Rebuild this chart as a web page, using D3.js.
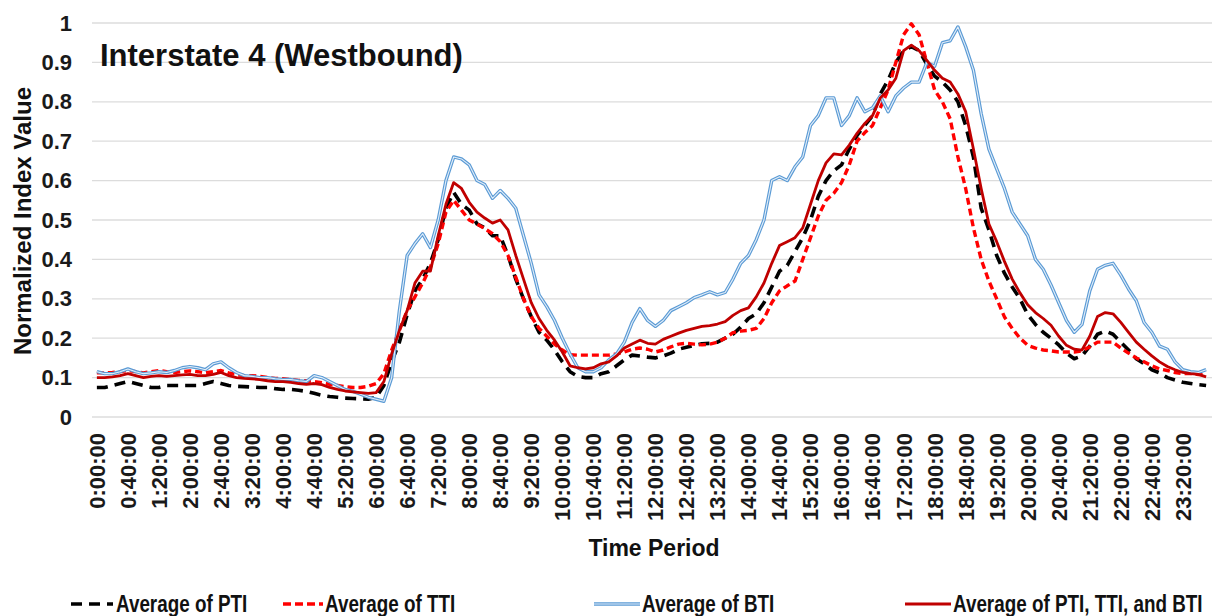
<!DOCTYPE html>
<html>
<head>
<meta charset="utf-8">
<script src="https://cdn.jsdelivr.net/npm/d3@7/dist/d3.min.js"></script>
<style>
  html, body { margin: 0; padding: 0; background: #fff; }
  svg { display: block; font-family: "Liberation Sans", Arial, sans-serif; font-weight: bold; }
</style>
</head>
<body>
<svg id="chart" width="1227" height="616"></svg>
<script>
// 10-minute time periods across the day (0:00:00 ... 23:50:00)
const periods = [];
for (let h = 0; h < 24; h++) {
  for (let m = 0; m < 60; m += 10) {
    periods.push(`${h}:${String(m).padStart(2, "0")}:00`);
  }
}
// every 40 minutes gets a label
const periodTicks = periods.filter((_, i) => i % 4 === 0);

const yTicks = [0, 0.1, 0.2, 0.3, 0.4, 0.5, 0.6, 0.7, 0.8, 0.9, 1];
const yTickLabels = ["0", "0.1", "0.2", "0.3", "0.4", "0.5", "0.6", "0.7", "0.8", "0.9", "1"];

const seriesNames = ["Average of PTI", "Average of TTI", "Average of BTI", "Average of PTI, TTI, and BTI"];

const avgPTI = [
  0.075, 0.075, 0.08, 0.085, 0.09, 0.085,
  0.08, 0.075, 0.075, 0.08, 0.08, 0.08,
  0.08, 0.08, 0.085, 0.09, 0.085, 0.08,
  0.078, 0.077, 0.076, 0.075, 0.075, 0.072,
  0.07, 0.07, 0.068, 0.065, 0.06, 0.055,
  0.052, 0.05, 0.048, 0.047, 0.046, 0.045,
  0.05, 0.08, 0.14, 0.19, 0.26, 0.32,
  0.35, 0.39, 0.45, 0.53, 0.57, 0.54,
  0.525, 0.49, 0.48, 0.46, 0.46, 0.41,
  0.35, 0.3, 0.255, 0.215, 0.195, 0.17,
  0.14, 0.115, 0.103, 0.1, 0.1, 0.11,
  0.115, 0.13, 0.145, 0.157, 0.155, 0.152,
  0.15, 0.155, 0.162, 0.172, 0.177, 0.182,
  0.186, 0.187, 0.19, 0.2, 0.21, 0.228,
  0.25, 0.262, 0.29, 0.33, 0.37, 0.385,
  0.42, 0.455, 0.5, 0.56, 0.6, 0.625,
  0.64, 0.68, 0.715, 0.74, 0.765, 0.82,
  0.855, 0.9, 0.93, 0.94, 0.93, 0.895,
  0.865, 0.85, 0.83, 0.8, 0.74, 0.66,
  0.53, 0.475, 0.41, 0.365, 0.33, 0.3,
  0.26, 0.235, 0.215, 0.2, 0.183, 0.162,
  0.148, 0.155, 0.18, 0.21, 0.218, 0.21,
  0.19, 0.17, 0.148, 0.135, 0.12, 0.112,
  0.1, 0.094, 0.088, 0.085, 0.082, 0.08
];

const avgTTI = [
  0.112, 0.112, 0.113, 0.115, 0.118, 0.115,
  0.112, 0.115, 0.118, 0.115, 0.113, 0.115,
  0.117, 0.115, 0.112, 0.115, 0.118, 0.112,
  0.108, 0.105, 0.105, 0.103, 0.1, 0.098,
  0.097, 0.095, 0.093, 0.092, 0.09, 0.087,
  0.083, 0.08, 0.077, 0.075, 0.075, 0.078,
  0.085, 0.11, 0.17, 0.22, 0.27, 0.305,
  0.34, 0.38, 0.44, 0.52, 0.55, 0.525,
  0.5, 0.49, 0.478, 0.465, 0.445, 0.41,
  0.355, 0.3, 0.255, 0.225, 0.205, 0.185,
  0.17, 0.158, 0.157, 0.157, 0.157, 0.157,
  0.157, 0.16, 0.165, 0.172, 0.175, 0.172,
  0.165, 0.17, 0.178, 0.185, 0.187, 0.185,
  0.183, 0.185, 0.19, 0.2, 0.214, 0.218,
  0.22, 0.225, 0.25, 0.29, 0.32, 0.333,
  0.345, 0.4, 0.455, 0.51, 0.55, 0.568,
  0.595, 0.64, 0.7, 0.722, 0.74, 0.785,
  0.83, 0.9, 0.97, 0.998, 0.97, 0.9,
  0.83, 0.8, 0.757, 0.66, 0.58, 0.48,
  0.4, 0.345, 0.3, 0.254, 0.225, 0.2,
  0.182, 0.175, 0.17, 0.168, 0.165, 0.165,
  0.165, 0.168, 0.178, 0.19, 0.19, 0.19,
  0.175, 0.162, 0.15, 0.14, 0.13, 0.122,
  0.118, 0.113, 0.11, 0.11, 0.108, 0.107
];

const avgBTI = [
  0.115, 0.11, 0.11, 0.115, 0.122, 0.115,
  0.11, 0.112, 0.115, 0.113, 0.118, 0.125,
  0.128, 0.125, 0.12, 0.135, 0.14, 0.125,
  0.113, 0.105, 0.103, 0.1, 0.1, 0.097,
  0.095, 0.095, 0.092, 0.09, 0.105, 0.1,
  0.09, 0.08, 0.07, 0.065, 0.058, 0.05,
  0.045, 0.04, 0.1, 0.27, 0.41, 0.44,
  0.465, 0.43, 0.5, 0.6, 0.66, 0.655,
  0.64, 0.6, 0.59, 0.555, 0.575, 0.555,
  0.53, 0.46, 0.39, 0.31, 0.28, 0.245,
  0.2, 0.16, 0.125, 0.115, 0.115, 0.125,
  0.145, 0.16, 0.19, 0.24, 0.275, 0.245,
  0.23, 0.245, 0.27, 0.28, 0.29, 0.303,
  0.31, 0.318, 0.31, 0.316, 0.35, 0.39,
  0.41, 0.45, 0.5, 0.6, 0.61, 0.6,
  0.635, 0.66, 0.74, 0.765, 0.81, 0.81,
  0.74, 0.765, 0.81, 0.775, 0.785, 0.815,
  0.775, 0.815, 0.835, 0.85, 0.85, 0.9,
  0.89, 0.95, 0.955, 0.99, 0.94, 0.88,
  0.77, 0.68, 0.63, 0.58, 0.52, 0.49,
  0.46, 0.4, 0.375, 0.335, 0.29, 0.245,
  0.215, 0.235, 0.32, 0.375, 0.385, 0.39,
  0.36, 0.325, 0.295, 0.24, 0.215, 0.18,
  0.172, 0.14, 0.12, 0.115, 0.113, 0.12
];

const avgAll = [
  0.1, 0.1, 0.102, 0.105, 0.11, 0.105,
  0.1, 0.103, 0.105, 0.103, 0.105, 0.107,
  0.108, 0.105, 0.105, 0.108, 0.113, 0.105,
  0.1, 0.098, 0.097, 0.095, 0.092, 0.09,
  0.09, 0.088, 0.085, 0.083, 0.085, 0.082,
  0.075, 0.07, 0.066, 0.064, 0.062, 0.06,
  0.062, 0.09, 0.16, 0.22, 0.27, 0.34,
  0.37, 0.37, 0.46, 0.54, 0.595, 0.58,
  0.545, 0.52, 0.505, 0.492, 0.5, 0.475,
  0.41, 0.35, 0.29, 0.25, 0.22, 0.195,
  0.165, 0.13, 0.125, 0.122, 0.125, 0.135,
  0.14, 0.155, 0.175, 0.185, 0.195, 0.187,
  0.185, 0.197, 0.205, 0.213, 0.22, 0.225,
  0.23, 0.232, 0.236, 0.242, 0.258, 0.27,
  0.277, 0.305, 0.34, 0.39, 0.435, 0.445,
  0.455, 0.48, 0.54, 0.6, 0.645, 0.668,
  0.665, 0.69, 0.72, 0.745, 0.765, 0.81,
  0.83, 0.86, 0.93, 0.944, 0.93, 0.905,
  0.88, 0.86, 0.85, 0.82, 0.775, 0.68,
  0.58, 0.49, 0.445, 0.395, 0.35, 0.315,
  0.285, 0.265, 0.25, 0.233, 0.205, 0.182,
  0.172, 0.17, 0.205, 0.255, 0.265, 0.262,
  0.24, 0.215, 0.19, 0.172, 0.155, 0.14,
  0.128, 0.12, 0.113, 0.11, 0.108, 0.102
];

const svg = d3.select("#chart");
const plot = { left: 92, right: 1212, top: 23, bottom: 417 };

const x = d3.scaleBand().domain(periods).range([plot.left + 1, plot.right - 2]).paddingInner(0);
const y = d3.scaleLinear().domain([0, 1]).range([plot.bottom, plot.top]);
const cx = p => x(p) + x.bandwidth() / 2;

// horizontal gridlines
svg.append("g").selectAll("line")
  .data(yTicks)
  .join("line")
  .attr("x1", plot.left).attr("x2", plot.right)
  .attr("y1", d => y(d)).attr("y2", d => y(d))
  .attr("stroke", "#dcdcdc").attr("stroke-width", 1.3);

// value axis
const yAxis = svg.append("g")
  .attr("transform", `translate(${plot.left},0)`)
  .call(d3.axisLeft(y).tickValues(yTicks).tickSize(0).tickPadding(20)
    .tickFormat((d, i) => yTickLabels[i]));
yAxis.select(".domain").remove();
yAxis.selectAll("text")
  .attr("font-family", "'Liberation Sans', Arial, sans-serif")
  .attr("font-weight", "bold").attr("font-size", 22).attr("fill", "#1a1a1a");

// time axis with vertical labels
const xAxis = svg.append("g")
  .attr("transform", `translate(0,${plot.bottom})`)
  .call(d3.axisBottom(x).tickValues(periodTicks).tickSize(0));
xAxis.select(".domain").remove();
xAxis.selectAll("text")
  .attr("font-family", "'Liberation Sans', Arial, sans-serif")
  .attr("font-weight", "bold").attr("font-size", 22).attr("fill", "#1a1a1a")
  .attr("transform", "rotate(-90)")
  .attr("text-anchor", "end")
  .attr("x", -16).attr("y", 0).attr("dy", "0.36em");

// series
const line = d3.line()
  .x((d, i) => cx(periods[i]))
  .y(d => y(d));

const g = svg.append("g").attr("fill", "none")
  .attr("stroke-linejoin", "round");

g.append("path").datum(avgPTI).attr("d", line)
  .attr("stroke", "#000").attr("stroke-width", 3.6).attr("stroke-dasharray", "11,7");
g.append("path").datum(avgTTI).attr("d", line)
  .attr("stroke", "#ff0000").attr("stroke-width", 3.4).attr("stroke-dasharray", "7,4");
g.append("path").datum(avgBTI).attr("d", line)
  .attr("stroke", "#5b9bd5").attr("stroke-width", 3.4);
g.append("path").datum(avgBTI).attr("d", line)
  .attr("stroke", "#e3eef9").attr("stroke-width", 1.1);
g.append("path").datum(avgAll).attr("d", line)
  .attr("stroke", "#c00000").attr("stroke-width", 2.8);

// title inside the plot
svg.append("text")
  .attr("x", 100).attr("y", 66)
  .attr("font-size", 31).attr("fill", "#111")
  .text("Interstate 4 (Westbound)");

// axis titles
svg.append("text")
  .attr("transform", "translate(31,221) rotate(-90)")
  .attr("text-anchor", "middle")
  .attr("font-size", 24).attr("fill", "#111")
  .text("Normalized Index Value");

svg.append("text")
  .attr("x", 654).attr("y", 556)
  .attr("text-anchor", "middle")
  .attr("font-size", 23).attr("fill", "#111")
  .text("Time Period");

// legend
const legendX = [68, 283, 594, 905];
const legendY = 604;
const legend = svg.append("g");
seriesNames.forEach((name, i) => {
  const lx = legendX[i];
  const item = legend.append("g");
  if (i === 0) {
    item.append("line").attr("x1", lx).attr("x2", lx + 45).attr("y1", legendY).attr("y2", legendY)
      .attr("stroke", "#000").attr("stroke-width", 3.6).attr("stroke-dasharray", "11,7").attr("stroke-dashoffset", -3);
  } else if (i === 1) {
    item.append("line").attr("x1", lx).attr("x2", lx + 40).attr("y1", legendY).attr("y2", legendY)
      .attr("stroke", "#ff0000").attr("stroke-width", 3.4).attr("stroke-dasharray", "8,4");
  } else if (i === 2) {
    item.append("line").attr("x1", lx).attr("x2", lx + 46).attr("y1", legendY).attr("y2", legendY)
      .attr("stroke", "#5b9bd5").attr("stroke-width", 3.4);
    item.append("line").attr("x1", lx).attr("x2", lx + 46).attr("y1", legendY).attr("y2", legendY)
      .attr("stroke", "#e3eef9").attr("stroke-width", 1.1);
  } else {
    item.append("line").attr("x1", lx).attr("x2", lx + 46).attr("y1", legendY).attr("y2", legendY)
      .attr("stroke", "#c00000").attr("stroke-width", 2.8);
  }
  const tx = lx + (i === 1 ? 42 : 48);
  item.append("text")
    .attr("transform", `translate(${tx},${legendY + 8}) scale(0.82,1)`)
    .attr("font-size", 23).attr("fill", "#111")
    .text(name);
});
</script>
</body>
</html>
